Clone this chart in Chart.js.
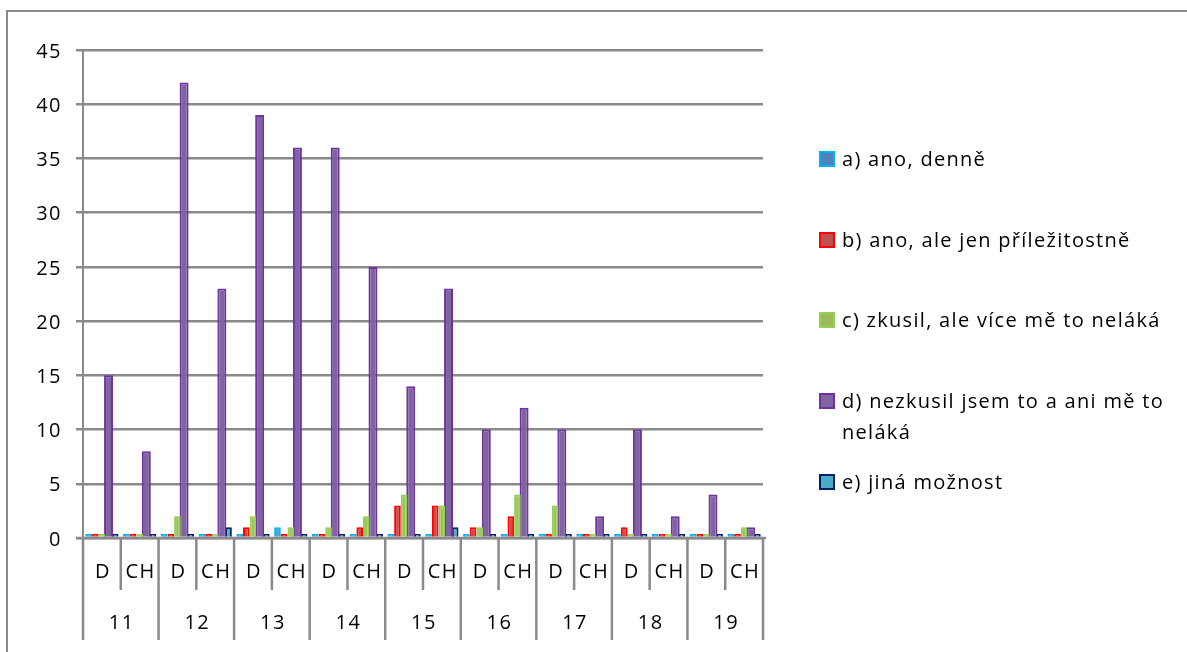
<!DOCTYPE html>
<html>
<head>
<meta charset="utf-8">
<script src="https://cdn.jsdelivr.net/npm/chart.js@4.4.1/dist/chart.umd.min.js"></script>
<style>
  html, body { margin: 0; padding: 0; background: #fff; }
  #wrap { position: relative; width: 1187px; height: 652px; overflow: hidden; font-family: "Open Sans", Lato, sans-serif; }
  #frame { position: absolute; left: 6px; top: 10px; width: 1300px; height: 800px;
           border-left: 2px solid #8a8a8a; border-top: 2px solid #8a8a8a; box-sizing: border-box; }
  #chart { position: absolute; left: 0; top: 0; }
  #legend { position: absolute; left: 818px; top: 0; width: 369px; height: 652px; }
  .item { position: absolute; left: 0; width: 369px; font-size: 20px; line-height: 31px; letter-spacing: 1.3px; color: #000; }
  .sw { position: absolute; left: 1px; top: 8px; width: 12px; height: 12px; border: 2px solid; }
  .tx { position: absolute; left: 24px; top: 0; width: 342px; }
</style>
</head>
<body>
<div id="wrap">
  <div id="frame"></div>
  <canvas id="chart" width="1187" height="652"></canvas>
  <div id="legend"></div>
</div>
<script>
// Classes (ročník) and the two groups in each of them
const years = ['11', '12', '13', '14', '15', '16', '17', '18', '19'];
const groups = ['D', 'CH'];
const categories = years.flatMap(y => groups.map(g => g + ' ' + y));
const subLabels = years.flatMap(() => groups);

// Answer counts per category (11 D, 11 CH, 12 D, 12 CH, ...)
const seriesNames = [
  'a) ano, denně',
  'b) ano, ale jen příležitostně',
  'c) zkusil, ale více mě to neláká',
  'd) nezkusil jsem to a ani mě to neláká',
  'e) jiná možnost'
];
const ansA = [0, 0, 0, 0, 0, 1, 0, 0, 0, 0, 0, 0, 0, 0, 0, 0, 0, 0];
const ansB = [0, 0, 0, 0, 1, 0, 0, 1, 3, 3, 1, 2, 0, 0, 1, 0, 0, 0];
const ansC = [0, 0, 2, 0, 2, 1, 1, 2, 4, 3, 1, 4, 3, 0, 0, 0, 0, 1];
const ansD = [15, 8, 42, 23, 39, 36, 36, 25, 14, 23, 10, 12, 10, 2, 10, 2, 4, 1];
const ansE = [0, 0, 0, 1, 0, 0, 0, 0, 0, 1, 0, 0, 0, 0, 0, 0, 0, 0];
const yTicks = [0, 5, 10, 15, 20, 25, 30, 35, 40, 45];

const fills   = ['#3f9fdc', '#cc4a47', '#9bc45a', '#8064a2', '#4bacc6'];
const borders = ['#00b0f0', '#ff0000', '#92d050', '#7030a0', '#002060'];
const swatchFills = ['#4f81bd', '#c0504d', '#9bbb59', '#8064a2', '#4bacc6'];
const barWidths = [1.0, 1.0, 1.0, 1.35, 1.0];
const values  = [ansA, ansB, ansC, ansD, ansE];

const FONT = '"Open Sans", Lato, sans-serif';
const AXIS_GRAY = '#8a8a8a';

// wider glyph spacing for all canvas text
const spacingPlugin = {
  id: 'textSpacing',
  beforeDraw(chart) { chart.ctx.letterSpacing = '1.5px'; }
};

// Two-row category table below the plot (group row, class row)
const tablePlugin = {
  id: 'categoryTable',
  afterDraw(chart) {
    const { ctx, chartArea: a, scales: { x } } = chart;
    const n = categories.length;
    const step = (a.right - a.left) / n;
    ctx.save();
    ctx.strokeStyle = AXIS_GRAY;
    ctx.lineWidth = 2.5;
    for (let i = 0; i <= n; i++) {
      const px = x.getPixelForValue(Math.min(i, n - 1)) + (i < n ? -step / 2 : step / 2);
      const bottom = (i % 2 === 0) ? 640 : 590;
      ctx.beginPath();
      ctx.moveTo(px, a.bottom);
      ctx.lineTo(px, bottom);
      ctx.stroke();
    }
    // axis line along zero
    ctx.beginPath();
    ctx.moveTo(a.left - 7, a.bottom);
    ctx.lineTo(a.right + 3, a.bottom);
    ctx.stroke();

    ctx.fillStyle = '#000';
    ctx.font = '20px ' + FONT;
    ctx.letterSpacing = '1.5px';
    ctx.textAlign = 'center';
    ctx.textBaseline = 'middle';
    for (let i = 0; i < n; i++) {
      ctx.fillText(subLabels[i], x.getPixelForValue(i) + 1, 572);
    }
    years.forEach((y, k) => {
      const c = (x.getPixelForValue(2 * k) + x.getPixelForValue(2 * k + 1)) / 2;
      ctx.fillText(y, c + 1, 623);
    });
    ctx.restore();
  }
};

new Chart(document.getElementById('chart'), {
  type: 'bar',
  data: {
    labels: categories,
    datasets: seriesNames.map((name, i) => ({
      label: name,
      data: values[i],
      backgroundColor: fills[i],
      borderColor: borders[i],
      borderWidth: 2,
      minBarLength: 4,
      categoryPercentage: 0.88,
      barPercentage: barWidths[i]
    }))
  },
  options: {
    responsive: false,
    animation: false,
    events: [],
    layout: { padding: { left: 0, top: 50, right: 424, bottom: 114 } },
    plugins: { legend: { display: false }, tooltip: { enabled: false } },
    scales: {
      x: { display: false },
      y: {
        min: 0, max: 45,
        afterFit(s) { s.width = 83; },
        afterBuildTicks(s) { s.ticks = yTicks.map(v => ({ value: v })); },
        border: { display: true, color: AXIS_GRAY, width: 2 },
        grid: { color: AXIS_GRAY, lineWidth: 2.5, tickLength: 7, drawTicks: true },
        ticks: { color: '#000', padding: 14, labelOffset: 2, font: { family: FONT, size: 20 } }
      }
    }
  },
  plugins: [spacingPlugin, tablePlugin]
});

// Legend on the right, one entry per series
const legendTops = [143, 224, 304, 385, 466];
const legend = document.getElementById('legend');
seriesNames.forEach((name, i) => {
  const it = document.createElement('div');
  it.className = 'item';
  it.style.top = legendTops[i] + 'px';
  const sw = document.createElement('div');
  sw.className = 'sw';
  sw.style.background = swatchFills[i];
  sw.style.borderColor = borders[i];
  const tx = document.createElement('div');
  tx.className = 'tx';
  tx.textContent = name;
  it.appendChild(sw);
  it.appendChild(tx);
  legend.appendChild(it);
});
</script>
</body>
</html>
